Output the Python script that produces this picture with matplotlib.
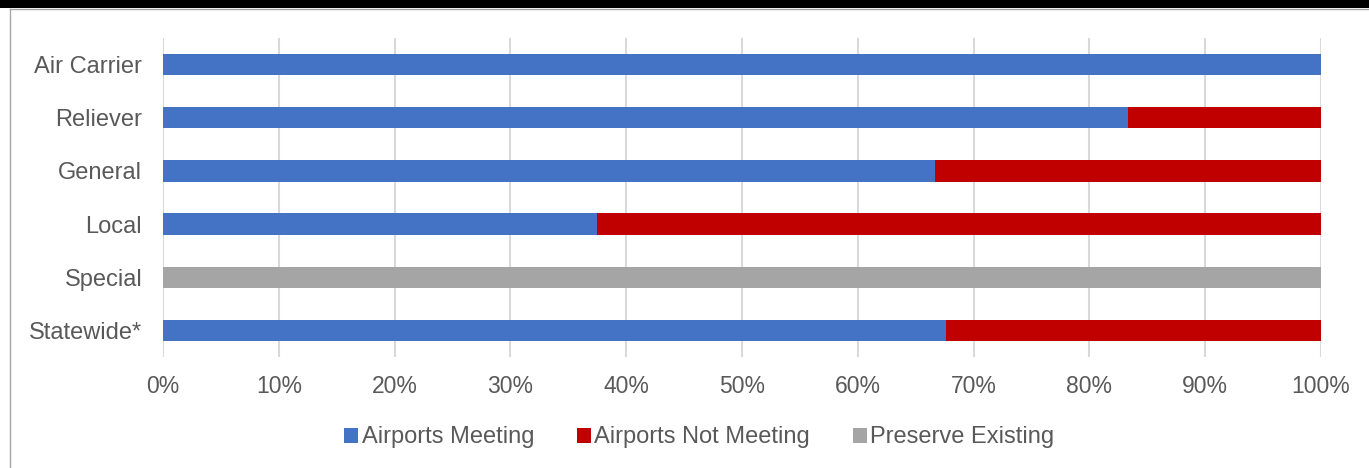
import numpy as np
import matplotlib.pyplot as plt
from matplotlib.patches import Rectangle
from matplotlib.lines import Line2D

# airport classes, top to bottom
categories = ['Air Carrier', 'Reliever', 'General', 'Local', 'Special', 'Statewide*']
meeting = [1.0, 0.833, 0.667, 0.375, 0.0, 0.676]
not_meeting = [0.0, 0.167, 0.333, 0.625, 0.0, 0.324]
preserve = [0.0, 0.0, 0.0, 0.0, 1.0, 0.0]

series = [
    ('Airports Meeting', meeting, '#4472C4'),
    ('Airports Not Meeting', not_meeting, '#C00000'),
    ('Preserve Existing', preserve, '#A5A5A5'),
]

plt.rcParams['font.family'] = ['Liberation Sans', 'DejaVu Sans']
text_color = '#595959'

fig = plt.figure(figsize=(13.69, 4.68), dpi=100)
fig.patch.set_facecolor('white')

# dark header band and chart frame
fig.add_artist(Rectangle((0, 1 - 8 / 468), 1, 8 / 468, transform=fig.transFigure,
                         facecolor='black', edgecolor='none'))
fig.add_artist(Line2D([9.5 / 1369, 1], [1 - 8.5 / 468, 1 - 8.5 / 468],
                      transform=fig.transFigure, color='#A6A6A6', lw=1))
fig.add_artist(Line2D([9.5 / 1369, 9.5 / 1369], [0, 1 - 8.5 / 468],
                      transform=fig.transFigure, color='#A6A6A6', lw=1))

ax = fig.add_axes([163 / 1369, 111 / 468, 1158 / 1369, 319 / 468])

y = np.arange(len(categories))
left = np.zeros(len(categories))
for label, vals, color in series:
    vals = np.array(vals)
    ax.barh(y, vals, left=left, height=0.4, color=color, label=label, zorder=3)
    left += vals

ax.set_ylim(len(categories) - 0.5, -0.5)
ax.set_xlim(0, 1)
ax.set_yticks(y)
ax.set_yticklabels(categories)
ax.set_xticks(np.linspace(0, 1, 11))
ax.set_xticklabels([f'{int(round(v * 100))}%' for v in np.linspace(0, 1, 11)])
ax.tick_params(axis='both', length=0, colors=text_color)
ax.tick_params(axis='y', pad=15, labelsize=17)
ax.tick_params(axis='x', pad=13, labelsize=16.5)
ax.grid(axis='x', color='#D9D9D9', lw=1.5, zorder=0)
for s in ax.spines.values():
    s.set_visible(False)

ax.legend(loc='center', bbox_to_anchor=(0.463, -0.252), ncol=3, frameon=False,
          fontsize=17, labelcolor=text_color, handlelength=0.6, handleheight=0.6,
          handletextpad=0.15, columnspacing=1.8)

fig.savefig('out.png', dpi=100)
